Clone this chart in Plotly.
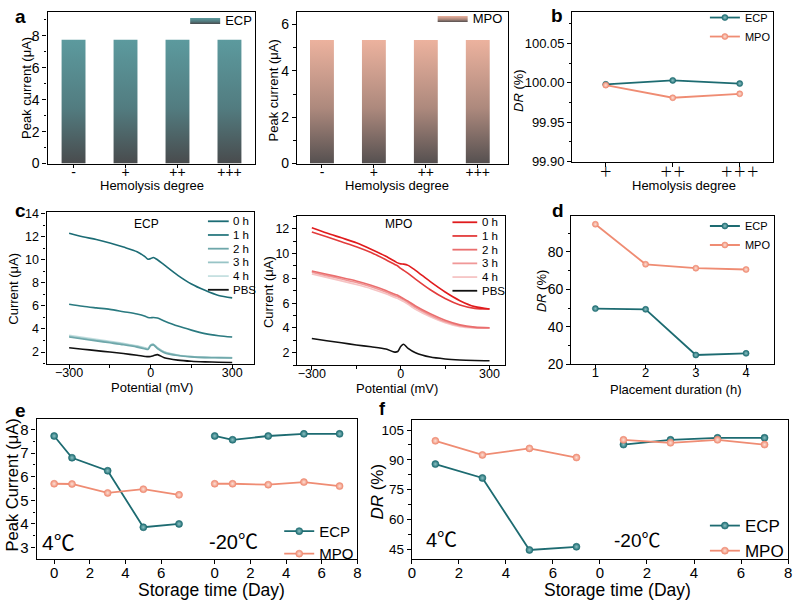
import plotly.graph_objects as go

W, H = 798, 609
FONT = "Liberation Sans, Arial, Noto Sans CJK SC"
def fx(px): return px / W
def fy(py): return 1 - py / H

# ---------------- data ----------------
hemo_cats = ['-', '+', '++', '+++']
ecp_peak = [7.75, 7.75, 7.75, 7.75]
mpo_peak = [5.33, 5.33, 5.33, 5.33]

dr_cats = ['＋', '＋＋', '＋＋＋']
dr_hemo_ecp = [99.998, 100.003, 99.999]
dr_hemo_mpo = [99.997, 99.981, 99.986]

potential = [-300, -250, -200, -150, -100, -50, -20, -10, 0, 10, 25, 50, 100, 150, 200, 250, 300]
curve_names = ['0 h', '1 h', '2 h', '3 h', '4 h', 'PBS']
ecp_0h = [12.3, 12.0, 11.75, 11.45, 11.1, 10.7, 10.25, 10.05, 10.1, 10.2, 10.0, 9.55, 8.65, 7.9, 7.35, 6.9, 6.7]
ecp_1h = [6.15, 5.97, 5.83, 5.7, 5.5, 5.3, 5.1, 5.0, 4.97, 5.0, 4.95, 4.7, 4.25, 3.9, 3.6, 3.42, 3.3]
ecp_2h = [3.3, 3.13, 2.97, 2.8, 2.63, 2.43, 2.27, 2.22, 2.55, 2.62, 2.3, 1.95, 1.7, 1.58, 1.52, 1.5, 1.48]
ecp_3h = [3.37, 3.2, 3.03, 2.87, 2.7, 2.5, 2.32, 2.27, 2.6, 2.67, 2.35, 2.0, 1.73, 1.6, 1.54, 1.52, 1.5]
ecp_4h = [3.45, 3.28, 3.1, 2.93, 2.75, 2.55, 2.37, 2.32, 2.62, 2.68, 2.38, 2.02, 1.75, 1.62, 1.56, 1.54, 1.52]
ecp_pbs = [2.37, 2.25, 2.12, 2.0, 1.87, 1.72, 1.62, 1.6, 1.62, 1.68, 1.78, 1.5, 1.3, 1.2, 1.15, 1.12, 1.1]

mpo_0h = [12.08, 11.66, 11.27, 10.87, 10.35, 9.78, 9.38, 9.25, 9.17, 9.15, 9.05, 8.65, 7.73, 6.9, 6.2, 5.72, 5.53]
mpo_1h = [11.74, 11.35, 10.95, 10.56, 10.09, 9.5, 9.12, 9.0, 8.8, 8.65, 8.4, 7.94, 7.08, 6.37, 5.85, 5.58, 5.53]
mpo_2h = [8.6, 8.33, 8.07, 7.79, 7.45, 7.03, 6.71, 6.63, 6.5, 6.37, 6.16, 5.77, 5.14, 4.62, 4.25, 4.07, 4.02]
mpo_3h = [8.5, 8.22, 7.95, 7.67, 7.33, 6.9, 6.6, 6.52, 6.4, 6.27, 6.05, 5.65, 5.03, 4.52, 4.18, 4.03, 4.0]
mpo_4h = [8.35, 8.08, 7.8, 7.5, 7.17, 6.75, 6.45, 6.37, 6.25, 6.12, 5.9, 5.5, 4.9, 4.42, 4.1, 4.0, 3.98]
mpo_pbs = [3.15, 2.97, 2.8, 2.63, 2.48, 2.3, 2.05, 2.1, 2.5, 2.68, 2.35, 2.0, 1.65, 1.5, 1.42, 1.38, 1.36]

hours = [1, 2, 3, 4]
dr_time_ecp = [49.7, 49.3, 24.9, 25.8]
dr_time_mpo = [94.8, 73.4, 71.3, 70.6]

days_e = [0, 1, 3, 5, 7]
peak_ecp_4c = [7.72, 6.8, 6.25, 3.86, 4.0]
peak_mpo_4c = [5.7, 5.69, 5.31, 5.47, 5.23]
peak_ecp_m20 = [7.72, 7.56, 7.72, 7.81, 7.81]
peak_mpo_m20 = [5.7, 5.7, 5.66, 5.77, 5.6]

days_f = [1, 3, 5, 7]
dr_ecp_4c = [87.9, 80.9, 44.7, 46.3]
dr_mpo_4c = [99.6, 92.5, 95.8, 91.2]
dr_ecp_m20 = [97.7, 100.1, 101.1, 101.1]
dr_mpo_m20 = [100.1, 98.6, 100.1, 97.7]

# ---------------- styles ----------------
ECP_C = '#1d6b71'
MPO_C = '#ef8c73'
ECP_CURVE_C = ['#1c6c75', '#2a7a80', '#6ea7aa', '#98c4c6', '#c6e0e1', '#111111']
MPO_CURVE_C = ['#e01b1d', '#e33c3c', '#ea6e6e', '#f09898', '#f6c4c4', '#111111']
ECP_GRAD = [[0, '#494b4d'], [0.45, '#527c80'], [1, '#5c9a9e']]
MPO_GRAD = [[0, '#555050'], [0.45, '#ad897d'], [1, '#ecb29e']]
ECP_LIGHT = '#8cc2c4'
MPO_LIGHT = '#fde0d6'

fig = go.Figure()

def bar_polys(vals, w=0.46):
    xs, ys = [], []
    for i, v in enumerate(vals):
        xs += [i - w / 2, i + w / 2, i + w / 2, i - w / 2, i - w / 2, None]
        ys += [0, 0, v, v, 0, None]
    return xs, ys

for vals, name, grad, axn, lg in [(ecp_peak, 'ECP', ECP_GRAD, '', 'legend'),
                                  (mpo_peak, 'MPO', MPO_GRAD, '2', 'legend2')]:
    xs, ys = bar_polys(vals)
    fig.add_trace(go.Scatter(x=xs, y=ys, mode='lines', fill='toself',
                             fillgradient=dict(type='vertical', colorscale=grad),
                             line=dict(width=0), name=name,
                             xaxis='x' + axn, yaxis='y' + axn, legend=lg))

def mk(color, light, size=7):
    return dict(size=size, color=color, line=dict(width=0.6, color=color),
                gradient=dict(type='radial', color=light))

# b
fig.add_trace(go.Scatter(x=[0, 1, 2], y=dr_hemo_ecp, mode='lines+markers', name='ECP',
                         line=dict(color=ECP_C, width=1.8), marker=mk(ECP_C, ECP_LIGHT, 6),
                         xaxis='x3', yaxis='y3', legend='legend3'))
fig.add_trace(go.Scatter(x=[0, 1, 2], y=dr_hemo_mpo, mode='lines+markers', name='MPO',
                         line=dict(color=MPO_C, width=1.8), marker=mk(MPO_C, MPO_LIGHT, 6),
                         xaxis='x3', yaxis='y3', legend='legend3'))

# c
ecp_curves = [ecp_0h, ecp_1h, ecp_2h, ecp_3h, ecp_4h, ecp_pbs]
mpo_curves = [mpo_0h, mpo_1h, mpo_2h, mpo_3h, mpo_4h, mpo_pbs]
for curves, cols, axn in [(ecp_curves, ECP_CURVE_C, '4'), (mpo_curves, MPO_CURVE_C, '5')]:
    for i in range(len(curves) - 1, -1, -1):
        fig.add_trace(go.Scatter(x=potential, y=curves[i], mode='lines', name=curve_names[i],
                                 line=dict(color=cols[i], width=1.6, shape='spline', smoothing=0.8),
                                 showlegend=False, xaxis='x' + axn, yaxis='y' + axn))

# d
fig.add_trace(go.Scatter(x=hours, y=dr_time_ecp, mode='lines+markers', name='ECP',
                         line=dict(color=ECP_C, width=1.8), marker=mk(ECP_C, ECP_LIGHT, 6),
                         xaxis='x6', yaxis='y6', legend='legend4'))
fig.add_trace(go.Scatter(x=hours, y=dr_time_mpo, mode='lines+markers', name='MPO',
                         line=dict(color=MPO_C, width=1.8), marker=mk(MPO_C, MPO_LIGHT, 6),
                         xaxis='x6', yaxis='y6', legend='legend4'))

# e (broken storage axis: second block shifted)
E_OFF = 9
for block_off, series in [(0, [(peak_ecp_4c, ECP_C, ECP_LIGHT, 'ECP'), (peak_mpo_4c, MPO_C, MPO_LIGHT, 'MPO')]),
                          (E_OFF, [(peak_ecp_m20, ECP_C, ECP_LIGHT, 'ECP'), (peak_mpo_m20, MPO_C, MPO_LIGHT, 'MPO')])]:
    for ser, col, light, name in series:
        fig.add_trace(go.Scatter(x=[d + block_off for d in days_e], y=ser, mode='lines+markers', name=name,
                                 legendgroup='e' + name,
                                 line=dict(color=col, width=1.8), marker=mk(col, light, 7),
                                 xaxis='x7', yaxis='y7', legend='legend5', showlegend=(block_off == 0)))

# f
F_OFF = 8
for block_off, series in [(0, [(dr_ecp_4c, ECP_C, ECP_LIGHT, 'ECP'), (dr_mpo_4c, MPO_C, MPO_LIGHT, 'MPO')]),
                          (F_OFF, [(dr_ecp_m20, ECP_C, ECP_LIGHT, 'ECP'), (dr_mpo_m20, MPO_C, MPO_LIGHT, 'MPO')])]:
    for ser, col, light, name in series:
        fig.add_trace(go.Scatter(x=[d + block_off for d in days_f], y=ser, mode='lines+markers', name=name,
                                 legendgroup='f' + name,
                                 line=dict(color=col, width=1.8), marker=mk(col, light, 7),
                                 xaxis='x8', yaxis='y8', legend='legend6', showlegend=(block_off == 0)))

# ---------------- axes ----------------
def ax(dom, rng, fs, anchor, **kw):
    d = dict(domain=dom, range=rng, anchor=anchor, showline=True, linecolor='black', linewidth=1.4,
             mirror=True, ticks='outside', ticklen=4, tickwidth=1.1, tickcolor='black',
             tickfont=dict(family=FONT, size=fs, color='black'), showgrid=False, zeroline=False)
    d.update(kw)
    return d

def minor(dt, t0=0):
    return dict(ticks='outside', ticklen=2.5, tickcolor='black', dtick=dt, tick0=t0, showgrid=False)

e_tickvals = [0, 2, 4, 6] + [d + E_OFF for d in [0, 2, 4, 6, 8]]
e_ticktext = ['0', '2', '4', '6', '0', '2', '4', '6', '8']
f_tickvals = [0, 2, 4, 6] + [d + F_OFF for d in [0, 2, 4, 6, 8]]
f_ticktext = ['0', '2', '4', '6', '0', '2', '4', '6', '8']

fig.update_layout(
    xaxis=ax([fx(44), fx(254)], [-0.5, 3.5], 14, 'y', tickvals=[0, 1, 2, 3], ticktext=hemo_cats,
             ticklabelstandoff=-8, ticklen=3),
    yaxis=ax([fy(162), fy(7)], [0, 9.5], 14, 'x', tickvals=[0, 2, 4, 6, 8], minor=minor(1)),
    xaxis2=ax([fx(296), fx(509)], [-0.48, 3.58], 14, 'y2', tickvals=[0, 1, 2, 3], ticktext=hemo_cats,
              ticklabelstandoff=-8, ticklen=3),
    yaxis2=ax([fy(162), fy(7)], [0, 6.55], 14, 'x2', tickvals=[0, 2, 4, 6], minor=minor(1)),
    xaxis3=ax([fx(574), fx(777)], [-0.5, 2.5], 13, 'y3', tickvals=[0, 1, 2], ticktext=dr_cats,
              ticklabelstandoff=-6),
    yaxis3=ax([fy(160), fy(7)], [99.9, 100.09], 13, 'x3', tickvals=[99.90, 99.95, 100.00, 100.05],
              tickformat='.2f', minor=minor(0.025, 99.9)),
    xaxis4=ax([fx(43), fx(253)], [-383, 382], 12.5, 'y4', tickvals=[-300, 0, 300], minor=minor(150),
              ticklabelstandoff=-7),
    yaxis4=ax([fy(367), fy(212)], [0.95, 14.1], 12.5, 'x4', dtick=2, tick0=0, minor=minor(1)),
    xaxis5=ax([fx(296), fx(506)], [-350, 352], 12.5, 'y5', tickvals=[-300, 0, 300], minor=minor(150),
              ticklabelstandoff=-7),
    yaxis5=ax([fy(368), fy(216)], [1, 13], 12.5, 'x5', dtick=2, tick0=0, minor=minor(1)),
    xaxis6=ax([fx(573), fx(778)], [0.52, 4.56], 13, 'y6', tickvals=hours, ticklabelstandoff=-8),
    yaxis6=ax([fy(367), fy(216)], [20, 99], 14, 'x6', tickvals=[20, 40, 60, 80], minor=minor(10)),
    xaxis7=ax([fx(33), fx(357)], [-0.98, 17], 15, 'y7', tickvals=e_tickvals, ticktext=e_ticktext,
              ticklabelstandoff=-4),
    yaxis7=ax([fy(566), fy(423)], [2.52, 8.44], 15, 'x7', dtick=1, tick0=0, minor=minor(0.5)),
    xaxis8=ax([fx(412), fx(792)], [0, 16], 15, 'y8', tickvals=f_tickvals, ticktext=f_ticktext,
              ticklabelstandoff=-4),
    yaxis8=ax([fy(566), fy(424)], [40.2, 110.1], 13.5, 'x8', tickvals=[45, 60, 75, 90, 105],
              minor=minor(7.5, 45)),
)

def leg(left, top, fs):
    return dict(x=fx(left), y=fy(top), xanchor='left', yanchor='top', bgcolor='rgba(0,0,0,0)',
                borderwidth=0, tracegroupgap=0, font=dict(family=FONT, size=fs, color='black'))

fig.update_layout(
    legend=leg(183, 0, 13),
    legend2=leg(433, -2, 13),
    legend3=leg(708, -2, 11),
    legend4=leg(708, 211, 11),
    legend5=leg(278, 521, 15),
    legend6=leg(708, 514, 17),
)

# ---------------- annotations ----------------
ann = []
def text(x, y, s, size, angle=0, bold=False, xanchor='center', color='black'):
    ann.append(dict(x=fx(x), y=fy(y), xref='paper', yref='paper', text=('<b>%s</b>' % s) if bold else s,
                    showarrow=False, textangle=angle, xanchor=xanchor, yanchor='middle',
                    font=dict(family=FONT, size=size, color=color)))

for lbl, x, y in [('a', 17, 12), ('b', 559, 11), ('c', 17, 210), ('d', 560, 210), ('e', 17, 414), ('f', 382, 413)]:
    text(x, y, lbl, 19 if lbl != 'f' else 18, bold=True)

text(149, 184, 'Hemolysis degree', 13)
text(22, 85, 'Peak current (μA)', 13, angle=-90)
text(397, 184, 'Hemolysis degree', 13)
text(272, 87, 'Peak current (μA)', 13, angle=-90)
text(687, 184, 'Hemolysis degree', 13)
text(519, 87, '<i>DR</i> (%)', 13, angle=-90)
text(149, 391, 'Potential (mV)', 13)
text(10, 290, 'Current (μA)', 13, angle=-90)
text(397, 392, 'Potential (mV)', 13)
text(267, 293, 'Current (μA)', 13, angle=-90)
text(679, 393, 'Placement duration (h)', 13)
text(543, 292, '<i>DR</i> (%)', 13, angle=-90)
text(210, 598, 'Storage time (Day)', 17.5)
text(8, 490, 'Peak Current (μA)', 16.5, angle=-90)
text(620, 598, 'Storage time (Day)', 17.5)
text(377, 497, '<i>DR</i> (%)', 17, angle=-90)

text(144, 224, 'ECP', 12)
text(398, 224, 'MPO', 12)
text(36, 549, '4℃', 21, xanchor='left')
text(205, 549, '-20℃', 20, xanchor='left')
text(424, 547, '4℃', 20, xanchor='left')
text(614, 547, '-20℃', 19, xanchor='left')

# manual legends for panel c
shapes = []
for (lx0, lx1, tx, ty0, dy), cols in [((206, 227, 229, 221, 14), ECP_CURVE_C),
                                      ((453, 478, 481, 222, 14), MPO_CURVE_C)]:
    for i, name in enumerate(curve_names):
        yy = ty0 + i * dy
        shapes.append(dict(type='line', xref='paper', yref='paper', x0=fx(lx0), x1=fx(lx1),
                           y0=fy(yy), y1=fy(yy), line=dict(color=cols[i], width=1.8)))
        text(tx, yy, name, 11.5, xanchor='left')

fig.update_layout(annotations=ann, shapes=shapes, width=W, height=H,
                  margin=dict(l=0, r=0, t=0, b=0), paper_bgcolor='white', plot_bgcolor='white',
                  font=dict(family=FONT, color='black'), showlegend=True)

fig.write_html("out.html")
